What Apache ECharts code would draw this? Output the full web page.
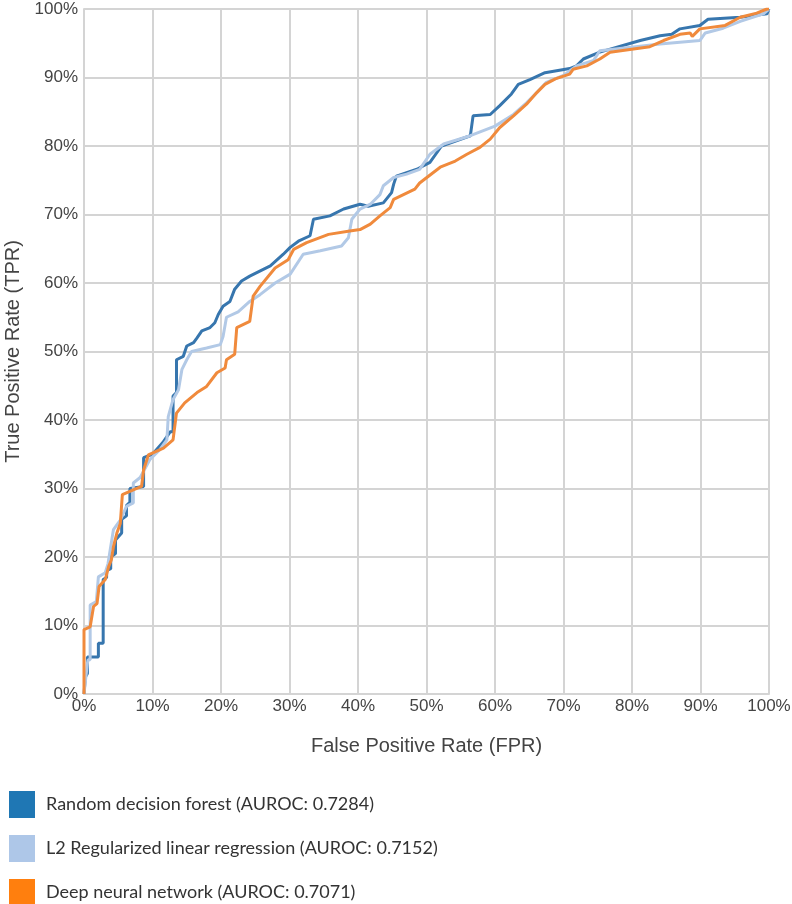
<!DOCTYPE html>
<html>
<head>
<meta charset="utf-8">
<script src="https://cdn.jsdelivr.net/npm/echarts@6/dist/echarts.min.js"></script>
<style>
html,body{margin:0;padding:0;background:#fff;}
#chart{width:792px;height:904px;}
</style>
</head>
<body>
<div id="chart"></div>
<script>
// Names / legend labels
const seriesNames = [
  'Random decision forest (AUROC: 0.7284)',
  'L2 Regularized linear regression (AUROC: 0.7152)',
  'Deep neural network (AUROC: 0.7071)'
];
const tickValues = [0,10,20,30,40,50,60,70,80,90,100];

// ROC points [FPR %, TPR %]
const rfPoints = [[0,0],[0.2,0],[0.2,2.5],[0.5,3],[0.5,5.4],[2.1,5.4],[2.1,7.4],[2.8,7.4],[2.8,16.7],[3.3,17],[3.3,18],[3.9,18.3],[3.9,20],[4.6,20.5],[4.6,22.5],[5.5,23.5],[5.5,25.5],[6.2,26],[6.2,27.5],[6.7,28],[6.7,30],[8.7,30.3],[8.7,34.5],[10,35],[11.5,36.7],[12.6,38.3],[13.0,38.3],[13.0,43.5],[13.5,44],[13.5,48.8],[14.5,49.3],[15,50.8],[16,51.3],[16.5,52],[17.2,53],[18.4,53.5],[19.1,54.2],[19.6,55.4],[20.3,56.6],[21.3,57.3],[22,59.1],[23,60.3],[24.2,61],[27.2,62.5],[29.1,64.2],[30.1,65.2],[31.3,66.1],[33,66.9],[33.5,69.3],[35.9,69.8],[37.9,70.8],[40.3,71.5],[41.5,71.2],[43.7,71.7],[44.9,73.2],[45.2,74.4],[45.6,75.6],[48.6,76.6],[50.5,77.6],[52.2,80],[56.4,81.5],[56.8,84.4],[59.3,84.6],[60.7,85.9],[62.4,87.6],[63.4,89],[65.1,89.7],[67.3,90.7],[70.9,91.3],[71.9,91.7],[72.9,92.7],[75.3,93.7],[81.2,95.4],[84.1,96.1],[85.8,96.3],[87,97.1],[89.9,97.6],[91.1,98.5],[95.8,98.8],[99.7,99.3],[100,100]];

const l2Points = [[0,0],[0.5,4.5],[0.6,5],[0.9,5],[0.9,13],[1.8,13.5],[2.1,17.1],[3.1,17.7],[3.5,19],[4.3,24],[5.3,25.4],[6.2,27.4],[7.2,27.9],[7.2,30.8],[8.2,31.6],[9.6,34.2],[11.1,35.7],[12.1,37.1],[12.3,40.5],[13,43],[13.8,44.4],[14.3,47.4],[15,48.8],[15.7,50],[17.9,50.5],[19.9,51],[20.3,52.2],[20.8,55],[22.5,55.8],[24.2,57.3],[25.7,58.3],[27.9,60],[30.1,61.3],[32,64.2],[34.5,64.7],[37.6,65.4],[38.6,66.6],[39.1,69.3],[40.3,70.8],[41.8,71.5],[43.2,72.9],[43.7,74.2],[45.2,75.4],[47.1,75.9],[49,76.6],[50.5,78.8],[52.5,80.3],[56.4,81.5],[60,82.9],[62.7,84.6],[64.6,86.3],[66.1,87.8],[67.5,89.3],[70,90.3],[71.9,91.7],[74.4,92.5],[75.3,93.9],[84.1,94.9],[89.9,95.4],[90.7,96.5],[93.3,97.2],[95.8,98.2],[99.2,99.3],[100,100]];

const dnnPoints = [[0,0],[0,9.4],[0.9,9.8],[1.4,12.8],[1.9,13.2],[2.2,15.7],[3.1,16.7],[3.6,18.6],[4,19.6],[4.3,21.5],[4.8,23.5],[5.3,24.9],[5.6,29.1],[7.2,29.8],[8.4,30.3],[8.7,32.7],[9.4,34.9],[11.6,35.9],[13,37.1],[13.5,41],[14.7,42.5],[16.5,44],[17.9,44.9],[19.4,46.9],[20.6,47.6],[20.8,48.8],[22,49.6],[22.3,53.5],[24.2,54.4],[24.7,58.1],[25.7,59.5],[27.9,62.2],[29.8,63.4],[30.6,64.9],[32.5,65.9],[35.7,67.1],[38.8,67.6],[40.3,67.8],[41.8,68.6],[43.2,69.8],[44.7,71],[45.2,72.2],[48.3,73.7],[49,74.6],[52,76.9],[54.2,77.8],[55.9,78.8],[57.8,79.8],[59.3,81],[60.7,82.7],[62.7,84.4],[64.6,86.1],[66.1,87.8],[67.3,89],[68.8,89.8],[70.9,90.5],[71.4,91.2],[73.4,91.7],[75.3,92.7],[76.8,93.7],[82.6,94.5],[84.6,95.4],[87,96.3],[88.5,96.5],[88.8,96],[89.9,97.1],[93.6,97.6],[95.8,98.8],[98.2,99.4],[99.7,100],[100,100]];

const legendColors = ['#1f77b4','#aec7e8','#ff7f0e'];
const lineColors = ['#3776ae','#b2c9e6','#f08a3c'];
const pointSets = [rfPoints, l2Points, dnnPoints];
const legendTops = [786, 830, 874];

const chart = echarts.init(document.getElementById('chart'), null, {renderer:'canvas'});
const tickFont = {fontFamily:'Liberation Sans', fontSize:17, color:'#444'};
const titleFont = {fontFamily:'Liberation Sans', fontSize:20, color:'#444'};
const gridColor = '#d4d4d4';

chart.setOption({
  animation:false,
  backgroundColor:'#fff',
  grid:{left:84, top:9, right:23, bottom:210, containLabel:false, outerBoundsMode:'none'},
  xAxis:{
    type:'value', min:0, max:100, interval:10,
    name:'False Positive Rate (FPR)', nameLocation:'middle', nameGap:42,
    nameTextStyle:titleFont,
    axisLine:{show:true, lineStyle:{color:gridColor, width:2}},
    axisTick:{show:false},
    axisLabel:Object.assign({formatter:'{value}%', margin:4}, tickFont),
    splitLine:{show:true, lineStyle:{color:gridColor, width:2}}
  },
  yAxis:{
    type:'value', min:0, max:100, interval:10,
    name:'True Positive Rate (TPR)', nameLocation:'middle', nameGap:59, nameRotate:90,
    nameTextStyle:titleFont,
    axisLine:{show:true, lineStyle:{color:gridColor, width:2}},
    axisTick:{show:false},
    axisLabel:Object.assign({formatter:'{value}%', margin:6}, tickFont),
    splitLine:{show:true, lineStyle:{color:gridColor, width:2}}
  },
  legend:seriesNames.map((n,i)=>({
    orient:'vertical', left:4, top:legendTops[i],
    itemWidth:26, itemHeight:27,
    icon:'rect', selectedMode:false,
    textStyle:{fontFamily:'Lato', fontSize:18, color:'#333', padding:[0,0,0,6]},
    data:[{name:n, itemStyle:{color:legendColors[i]}}]
  })),
  series:pointSets.map((pts,i)=>({
    name:seriesNames[i],
    type:'line',
    data:pts,
    showSymbol:false, symbol:'none',
    itemStyle:{color:legendColors[i]},
    lineStyle:{color:lineColors[i], width:3},
    z:2+i
  }))
});
</script>
</body>
</html>
